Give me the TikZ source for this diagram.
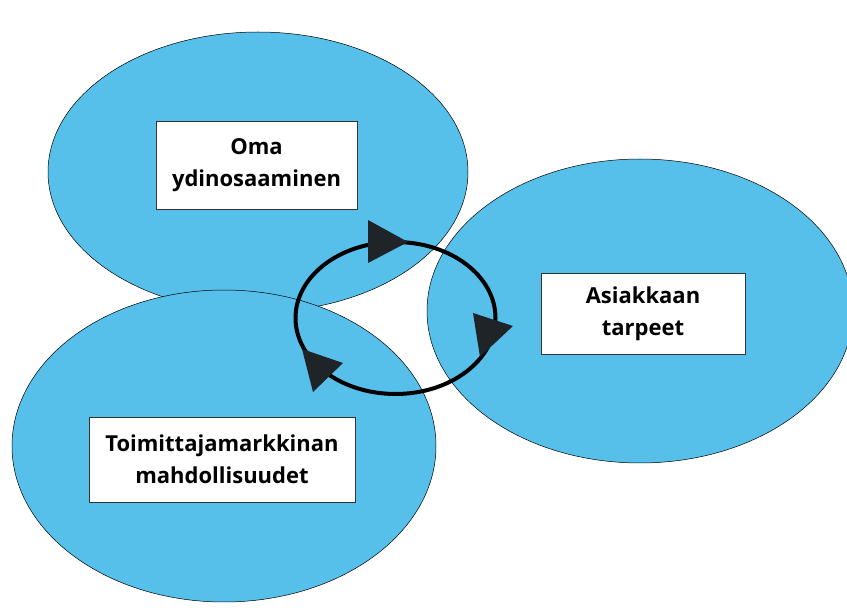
\documentclass[tikz,border=0pt]{standalone}
\usepackage{fontspec}
\setmainfont{Open Sans}
\usepackage{xcolor}
\usetikzlibrary{shapes.geometric,positioning}
\definecolor{areablue}{HTML}{56BFEA}
\definecolor{tipdark}{HTML}{1F2429}
\definecolor{boxline}{HTML}{333333}

\begin{document}
\begin{tikzpicture}[x=1pt, y=-1pt,
    area/.style={draw=black, line width=0.5pt, fill=areablue},
    label box/.style={draw=boxline, line width=0.7pt, fill=white, align=center,
        font=\fontsize{22}{32}\selectfont\bfseries, inner sep=0pt},
    cycle line/.style={draw=black, line width=4pt},
    cycle tip/.style={fill=tipdark}]
    \useasboundingbox (0,0) rectangle (847,612);

    % Areas
    \draw [area] (258,172) ellipse [x radius=210, y radius=140];
    \draw [area] (640,311) ellipse [x radius=213, y radius=152];
    \draw [area] (224,446) ellipse [x radius=212, y radius=156];

    % Labels
    \node [label box, minimum width=201, minimum height=88] (core) at (256.5,165) {Oma\\ydinosaaminen};
    \node [label box, minimum width=204, minimum height=81] (need) at (643,313.5) {Asiakkaan\\tarpeet};
    \node [label box, minimum width=266, minimum height=85] (supply) at (222,459.5) {Toimittajamarkkinan\\mahdollisuudet};

    % Cycle
    \coordinate (hub) at (395.5,318);
    \draw [cycle line] (hub) ellipse [x radius=100, y radius=76];
    \fill [cycle tip] (368,220) -- (368,263) -- (408,242) -- cycle;
    \fill [cycle tip] (473,313) -- (513,326) -- (480,357) -- cycle;
    \fill [cycle tip] (302,349) -- (343,363) -- (313,392) -- cycle;

\end{tikzpicture}
\end{document}
